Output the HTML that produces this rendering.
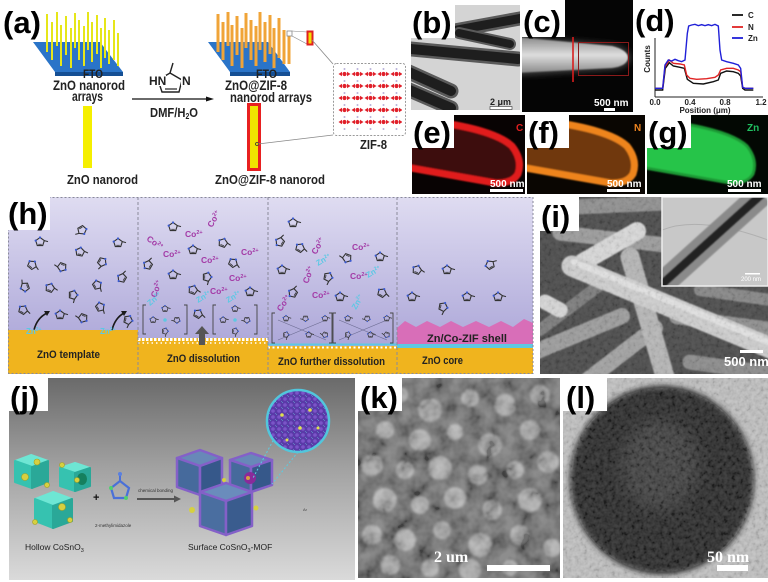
<!DOCTYPE html>
<html><head><meta charset="utf-8">
<style>
html,body{margin:0;padding:0;background:#fff;}
svg{display:block;font-family:"Liberation Sans",Arial,sans-serif;}
.lb{font-weight:bold;font-size:31px;fill:#000;}
.t{font-weight:bold;fill:#222;}
.co{font-weight:bold;font-size:8.5px;fill:#a33aa6;}
.zn{font-weight:bold;font-size:8px;fill:#5cc8e4;}
</style></head><body>
<svg width="768" height="582" viewBox="0 0 768 582" xmlns="http://www.w3.org/2000/svg" xmlns:xlink="http://www.w3.org/1999/xlink">
<defs>
 <linearGradient id="hbg" x1="0" y1="0" x2="0" y2="1">
  <stop offset="0" stop-color="#dfdcf1"/><stop offset="1" stop-color="#a39dd4"/>
 </linearGradient>
 <linearGradient id="jbg" x1="0" y1="0" x2="0" y2="1">
  <stop offset="0" stop-color="#6a6a6a"/><stop offset="0.45" stop-color="#a2a2a2"/><stop offset="1" stop-color="#dadada"/>
 </linearGradient>
 <linearGradient id="crod" x1="0" y1="0" x2="0" y2="1">
  <stop offset="0" stop-color="#8a8a8a"/><stop offset="0.5" stop-color="#dedede"/><stop offset="1" stop-color="#8a8a8a"/>
 </linearGradient>
 <filter id="bl1"><feGaussianBlur stdDeviation="0.8"/></filter>
 <filter id="bl2"><feGaussianBlur stdDeviation="1.2"/></filter>
 <filter id="bl4" x="-20%" y="-20%" width="140%" height="140%"><feGaussianBlur stdDeviation="3"/></filter>
 <filter id="bl8" x="-50%" y="-50%" width="200%" height="200%"><feGaussianBlur stdDeviation="8"/></filter>
 <filter id="nzk" x="358" y="378" width="202" height="200" filterUnits="userSpaceOnUse">
  <feTurbulence type="fractalNoise" baseFrequency="0.06" numOctaves="3" seed="4"/>
  <feColorMatrix type="matrix" values="1.8 0 0 0 -0.4  1.8 0 0 0 -0.4  1.8 0 0 0 -0.4  0 0 0 0 1"/>
 </filter>
 <filter id="nzf" x="0" y="0" width="768" height="582" filterUnits="userSpaceOnUse">
  <feTurbulence type="fractalNoise" baseFrequency="0.25" numOctaves="2" seed="9"/>
  <feColorMatrix type="matrix" values="2 0 0 0 -0.5  2 0 0 0 -0.5  2 0 0 0 -0.5  0 0 0 0 1"/>
 </filter>
 <clipPath id="cb"><rect x="411" y="5" width="109" height="105"/></clipPath>
 <clipPath id="cc"><rect x="522" y="0" width="111" height="112"/></clipPath>
 <clipPath id="ce"><rect x="412" y="115" width="113" height="79"/></clipPath>
 <clipPath id="cf"><rect x="527" y="115" width="118" height="79"/></clipPath>
 <clipPath id="cg"><rect x="647" y="115" width="121" height="79"/></clipPath>
 <clipPath id="ci"><rect x="540" y="197" width="228" height="177"/></clipPath>
 <clipPath id="cii"><rect x="662" y="197" width="106" height="89"/></clipPath>
 <clipPath id="cj"><rect x="9" y="378" width="346" height="202"/></clipPath>
 <clipPath id="ck"><rect x="358" y="378" width="202" height="200"/></clipPath>
 <clipPath id="cl"><rect x="563" y="378" width="205" height="200"/></clipPath>
 <clipPath id="csph"><ellipse cx="662" cy="480" rx="92" ry="92"/></clipPath>
 <clipPath id="cjc"><circle cx="298" cy="421" r="31"/></clipPath>
 <pattern id="zif" x="338" y="68" width="13" height="12" patternUnits="userSpaceOnUse">
  <circle cx="6.5" cy="6" r="2.1" fill="#e0202a"/>
  <polygon points="0.5,6 4,3.8 4,8.2" fill="#e0202a"/>
  <polygon points="12.5,6 9,3.8 9,8.2" fill="#e0202a"/>
  <circle cx="6.5" cy="1" r="1" fill="#b8b0d8"/>
 </pattern>
 <pattern id="mof" x="0" y="0" width="6" height="6" patternUnits="userSpaceOnUse">
  <rect width="6" height="6" fill="#5a3aa8"/>
  <circle cx="3" cy="3" r="1.8" fill="#7b54c8"/>
  <circle cx="0" cy="0" r="0.8" fill="#6ad0e0"/>
  <circle cx="6" cy="6" r="0.8" fill="#6ad0e0"/>
 </pattern>
 <g id="im">
  <path d="M0,-4.5 L4.3,-1.4 L2.7,3.6 L-2.7,3.6 L-4.3,-1.4 Z" fill="none" stroke="#333" stroke-width="1.1"/>
  <path d="M-1.8,2.3 L1.8,2.3" stroke="#333" stroke-width="0.8"/>
  <line x1="4.3" y1="-1.4" x2="8" y2="-0.4" stroke="#333" stroke-width="1.1"/>
  <circle cx="-4.3" cy="-1.4" r="1.1" fill="#3a5ad0"/>
  <circle cx="0" cy="-4.5" r="1.1" fill="#3a5ad0"/>
 </g>
</defs>

<rect x="0" y="0" width="768" height="582" fill="#fff"/>

<!-- ================= (a) ================= -->
<text class="lb" x="3" y="33" font-size="28">(a)</text>
<polygon points="55,72 123,72 123,76 55,76" fill="#154f94"/>
<polygon points="33,42 100,42 123,72 55,72" fill="#2a74c8"/>
<g stroke="#e6e61a" stroke-width="2">
 <line x1="47" y1="14" x2="47" y2="52"/><line x1="52" y1="22" x2="52" y2="60"/>
 <line x1="57" y1="12" x2="57" y2="46"/><line x1="61" y1="25" x2="61" y2="66"/>
 <line x1="66" y1="16" x2="66" y2="55"/><line x1="71" y1="28" x2="71" y2="68"/>
 <line x1="75" y1="13" x2="75" y2="48"/><line x1="79" y1="20" x2="79" y2="60"/>
 <line x1="84" y1="26" x2="84" y2="66"/><line x1="88" y1="12" x2="88" y2="50"/>
 <line x1="92" y1="22" x2="92" y2="62"/><line x1="97" y1="15" x2="97" y2="54"/>
 <line x1="101" y1="28" x2="101" y2="68"/><line x1="105" y1="18" x2="105" y2="58"/>
 <line x1="109" y1="30" x2="109" y2="64"/><line x1="114" y1="20" x2="114" y2="60"/>
 <line x1="118" y1="33" x2="118" y2="66"/>
</g>
<text class="t" x="83" y="78" font-size="12" textLength="20" lengthAdjust="spacingAndGlyphs" fill="#1a2a50">FTO</text>
<text class="t" x="53" y="90" font-size="14" textLength="72" lengthAdjust="spacingAndGlyphs">ZnO nanorod</text>
<text class="t" x="72" y="101" font-size="14" textLength="31" lengthAdjust="spacingAndGlyphs">arrays</text>
<rect x="83" y="106" width="9" height="62" fill="#f5ef00"/>
<text class="t" x="67" y="184" font-size="13" textLength="71" lengthAdjust="spacingAndGlyphs">ZnO nanorod</text>

<line x1="132" y1="99" x2="208" y2="99" stroke="#111" stroke-width="1.3"/>
<polygon points="206,96.5 214,99 206,101.5" fill="#111"/>
<path d="M170,73 L182,80 L179,92 L162,92 L158,80 Z" fill="none" stroke="#222" stroke-width="1.4"/>
<path d="M165,89 L177,89" stroke="#222" stroke-width="1.2"/>
<line x1="170" y1="73" x2="173" y2="63" stroke="#222" stroke-width="1.4"/>
<rect x="148" y="75" width="18" height="11" fill="#fff"/>
<rect x="181" y="75" width="10" height="11" fill="#fff"/>
<text class="t" x="149" y="85" font-size="12">HN</text>
<text class="t" x="182" y="85" font-size="12">N</text>
<text class="t" x="150" y="117" font-size="13" textLength="48" lengthAdjust="spacingAndGlyphs">DMF/H<tspan font-size="8" dy="2">2</tspan><tspan dy="-2">O</tspan></text>

<polygon points="230,72 290,72 290,76 230,76" fill="#154f94"/>
<polygon points="208,42 268,42 290,72 230,72" fill="#2a74c8"/>
<g stroke="#f0a438" stroke-width="3">
 <line x1="218" y1="14" x2="218" y2="52"/><line x1="223" y1="22" x2="223" y2="60"/>
 <line x1="228" y1="12" x2="228" y2="46"/><line x1="232" y1="25" x2="232" y2="66"/>
 <line x1="237" y1="16" x2="237" y2="55"/><line x1="242" y1="28" x2="242" y2="68"/>
 <line x1="246" y1="13" x2="246" y2="48"/><line x1="251" y1="20" x2="251" y2="60"/>
 <line x1="256" y1="26" x2="256" y2="66"/><line x1="260" y1="12" x2="260" y2="50"/>
 <line x1="265" y1="22" x2="265" y2="62"/><line x1="270" y1="15" x2="270" y2="54"/>
 <line x1="274" y1="28" x2="274" y2="68"/><line x1="279" y1="18" x2="279" y2="58"/>
 <line x1="284" y1="30" x2="284" y2="64"/><line x1="289" y1="34" x2="289" y2="64"/>
</g>
<text class="t" x="256" y="78" font-size="12" textLength="21" lengthAdjust="spacingAndGlyphs" fill="#1a2a50">FTO</text>
<text class="t" x="225" y="90" font-size="14" textLength="62" lengthAdjust="spacingAndGlyphs">ZnO@ZIF-8</text>
<text class="t" x="230" y="102" font-size="14" textLength="82" lengthAdjust="spacingAndGlyphs">nanorod arrays</text>
<rect x="287" y="31" width="5" height="5" fill="#fff" stroke="#888" stroke-width="0.8"/>
<line x1="292" y1="31" x2="307" y2="32" stroke="#888" stroke-width="0.6"/>
<line x1="292" y1="36" x2="307" y2="44" stroke="#888" stroke-width="0.6"/>
<rect x="307.5" y="31.5" width="5" height="13" fill="#f0e000" stroke="#e02020" stroke-width="2"/>
<line x1="312" y1="40" x2="333" y2="64" stroke="#888" stroke-width="0.8"/>
<rect x="248.5" y="104.5" width="11" height="65" fill="#f0e400" stroke="#e82020" stroke-width="3"/>
<circle cx="257" cy="144" r="1.5" fill="none" stroke="#333" stroke-width="0.8"/>
<line x1="258" y1="144" x2="333" y2="135" stroke="#888" stroke-width="0.8"/>
<text class="t" x="215" y="184" font-size="13" textLength="110" lengthAdjust="spacingAndGlyphs">ZnO@ZIF-8 nanorod</text>
<rect x="333.5" y="63.5" width="72" height="72" rx="3" fill="#fff" stroke="#999" stroke-width="1" stroke-dasharray="2,1.5"/>
<rect x="338" y="68" width="64" height="62" fill="url(#zif)"/>
<text class="t" x="360" y="149" font-size="13" textLength="27" lengthAdjust="spacingAndGlyphs">ZIF-8</text>

<!-- ================= (b) ================= -->
<g clip-path="url(#cb)">
 <rect x="411" y="5" width="109" height="105" fill="#d4d4d4"/>
 <g stroke-linecap="round" fill="none">
  <line x1="457" y1="30" x2="528" y2="17" stroke="#5a5a5a" stroke-width="14"/>
  <line x1="457" y1="30" x2="528" y2="17" stroke="#1e1e1e" stroke-width="9"/>
  <line x1="459" y1="33" x2="510" y2="44" stroke="#5a5a5a" stroke-width="12"/>
  <line x1="459" y1="33" x2="510" y2="44" stroke="#1e1e1e" stroke-width="8"/>
  <line x1="400" y1="48" x2="518" y2="59" stroke="#5a5a5a" stroke-width="15"/>
  <line x1="400" y1="48" x2="518" y2="59" stroke="#1e1e1e" stroke-width="10"/>
  <line x1="400" y1="68" x2="451" y2="91" stroke="#5a5a5a" stroke-width="15"/>
  <line x1="400" y1="68" x2="451" y2="91" stroke="#1e1e1e" stroke-width="10"/>
  <line x1="400" y1="86" x2="451" y2="108" stroke="#5a5a5a" stroke-width="15"/>
  <line x1="400" y1="86" x2="451" y2="108" stroke="#1e1e1e" stroke-width="10"/>
 </g>
 <text x="490" y="105" font-size="9" font-weight="bold" fill="#222">2 μm</text>
 <rect x="490" y="106.5" width="22" height="3" fill="#fff" stroke="#333" stroke-width="0.6"/>
</g>
<rect x="411" y="5" width="44" height="33" fill="#fff"/>
<text class="lb" x="412" y="33">(b)</text>

<!-- ================= (c) ================= -->
<g clip-path="url(#cc)">
 <rect x="522" y="0" width="111" height="112" fill="#050505"/>
 <path d="M515,35 L612,44 Q631,48 631,58 Q630,68 612,70 L515,76 Z" fill="#3a3a3a" filter="url(#bl4)"/>
 <path d="M515,37 L612,46 Q628,50 628,58 Q627,66 612,68 L515,73 Z" fill="url(#crod)" filter="url(#bl1)"/>
 <rect x="578.5" y="42.5" width="50" height="33" fill="none" stroke="#8a1a1a" stroke-width="1"/>
 <line x1="573" y1="37" x2="573" y2="82" stroke="#d81e1e" stroke-width="1.6"/>
 <text x="594" y="106" font-size="10" font-weight="bold" fill="#fff">500 nm</text>
 <rect x="604" y="108" width="11" height="3" fill="#fff"/>
</g>
<rect x="522" y="0" width="43" height="37" fill="#fff"/>
<text class="lb" x="523" y="32">(c)</text>

<!-- ================= (d) ================= -->
<text class="lb" x="635" y="31" font-size="30">(d)</text>
<line x1="655" y1="38" x2="655" y2="97" stroke="#222" stroke-width="1"/>
<line x1="655" y1="97" x2="763" y2="97" stroke="#222" stroke-width="1"/>
<g font-size="8" font-weight="bold" fill="#222" text-anchor="middle">
 <text x="655" y="105">0.0</text><text x="690" y="105">0.4</text>
 <text x="725" y="105">0.8</text><text x="761" y="105">1.2</text>
 <text x="705" y="113">Position (μm)</text>
 <text x="0" y="0" transform="translate(650,59) rotate(-90)">Counts</text>
</g>
<g transform="translate(630,0) scale(0.3333)" fill="none" stroke-width="1.4">
 <path vector-effect="non-scaling-stroke" stroke="#111" d="M75,270 L98,270 L106,205 L118,188 L130,198 L150,202 L163,205 L172,238 L190,250 L220,252 L250,245 L265,240 L272,220 L290,213 L310,215 L325,220 L332,228 L338,265 L345,270 L370,270"/>
 <path vector-effect="non-scaling-stroke" stroke="#e02424" d="M75,265 L98,265 L105,200 L118,180 L130,190 L150,192 L163,195 L170,225 L180,235 L200,238 L230,236 L255,232 L265,225 L272,210 L290,205 L310,205 L325,210 L332,215 L338,262 L345,265 L370,265"/>
 <path vector-effect="non-scaling-stroke" stroke="#2020d8" d="M75,265 L98,265 L105,195 L115,180 L125,183 L135,178 L145,182 L155,185 L165,180 L172,100 L176,78 L185,75 L195,73 L205,77 L215,74 L225,77 L235,74 L245,77 L255,73 L265,78 L270,150 L275,180 L290,185 L310,190 L325,195 L332,205 L338,262 L345,265 L370,265"/>
</g>
<line x1="732" y1="15" x2="743" y2="15" stroke="#111" stroke-width="1.8"/>
<line x1="732" y1="27" x2="743" y2="27" stroke="#e02424" stroke-width="1.8"/>
<line x1="732" y1="38" x2="743" y2="38" stroke="#2020d8" stroke-width="1.8"/>
<g font-size="8" font-weight="bold" fill="#222">
 <text x="748" y="18">C</text><text x="748" y="30">N</text><text x="748" y="41">Zn</text>
</g>

<!-- ================= (e) ================= -->
<g clip-path="url(#ce)">
 <rect x="412" y="115" width="113" height="79" fill="#080303"/>
 <path d="M405,120 L450,124 Q497,132 512,146 Q523,160 518,174 Q512,184 495,183 L405,167 Z" fill="#3e0707" stroke="#e01a1a" stroke-width="7" filter="url(#bl1)"/>
 <text x="516" y="131" font-size="10" font-weight="bold" fill="#e02020">C</text>
 <text x="490" y="187" font-size="10" font-weight="bold" fill="#fff">500 nm</text>
 <rect x="490" y="189" width="33" height="3" fill="#fff"/>
</g>
<rect x="412" y="115" width="42" height="33" fill="#fff"/>
<text class="lb" x="413" y="143">(e)</text>

<!-- ================= (f) ================= -->
<g clip-path="url(#cf)">
 <rect x="527" y="115" width="118" height="79" fill="#0a0602"/>
 <path d="M520,120 L565,124 Q612,132 627,146 Q638,160 633,174 Q627,184 610,183 L520,167 Z" fill="#70380c" stroke="#ee841e" stroke-width="7" filter="url(#bl1)"/>
 <text x="634" y="131" font-size="10" font-weight="bold" fill="#ee8420">N</text>
 <text x="607" y="187" font-size="10" font-weight="bold" fill="#fff">500 nm</text>
 <rect x="607" y="189" width="33" height="3" fill="#fff"/>
</g>
<rect x="527" y="115" width="42" height="33" fill="#fff"/>
<text class="lb" x="528" y="143">(f)</text>

<!-- ================= (g) ================= -->
<g clip-path="url(#cg)">
 <rect x="647" y="115" width="121" height="79" fill="#030803"/>
 <path d="M640,120 L685,124 Q732,132 747,146 Q758,160 753,174 Q747,184 730,183 L640,167 Z" fill="#26c44a" stroke="#1c9a34" stroke-width="3" filter="url(#bl1)"/>
 <text x="747" y="131" font-size="10" font-weight="bold" fill="#20c060">Zn</text>
 <text x="727" y="187" font-size="10" font-weight="bold" fill="#fff">500 nm</text>
 <rect x="728" y="189" width="33" height="3" fill="#fff"/>
</g>
<rect x="647" y="115" width="44" height="33" fill="#fff"/>
<text class="lb" x="648" y="143">(g)</text>

<!-- ================= (h) ================= -->
<rect x="8" y="197" width="525" height="177" fill="url(#hbg)"/>
<rect x="8" y="330" width="130" height="44" fill="#f0b41e"/>
<rect x="138" y="338" width="130" height="36" fill="#f0b41e"/>
<rect x="268" y="346" width="129" height="28" fill="#f0b41e"/>
<rect x="397" y="348" width="136" height="26" fill="#f0b41e"/>
<line x1="138" y1="339.5" x2="268" y2="339.5" stroke="#fff" stroke-width="3" stroke-dasharray="2.5,1.5"/>
<line x1="138" y1="343" x2="268" y2="343" stroke="#fff" stroke-width="1.5" stroke-dasharray="1.5,3"/>
<line x1="268" y1="344.5" x2="397" y2="344.5" stroke="#5ec8e2" stroke-width="2"/>
<line x1="268" y1="347.5" x2="397" y2="347.5" stroke="#fff" stroke-width="2" stroke-dasharray="2,2.5"/>
<path d="M397,345 L397,328 L405,321 L416,327 L427,321 L440,327 L451,321 L463,327 L476,321 L489,327 L501,321 L513,327 L524,319 L533,323 L533,345 Z" fill="#d86eb8"/>
<rect x="397" y="344" width="136" height="4" fill="#5ec8e2"/>
<rect x="8.5" y="197.5" width="524.5" height="176" fill="none" stroke="#8a8a9a" stroke-width="1" stroke-dasharray="2,2"/>
<g stroke="#8a8a9a" stroke-width="1" stroke-dasharray="3,2">
 <line x1="138" y1="197" x2="138" y2="374"/>
 <line x1="268" y1="197" x2="268" y2="374"/>
 <line x1="397" y1="197" x2="397" y2="374"/>
</g>
<g class="t" font-size="11" fill="#222">
 <text x="37" y="358" textLength="63" lengthAdjust="spacingAndGlyphs" font-weight="bold">ZnO template</text>
 <text x="167" y="362" textLength="73" lengthAdjust="spacingAndGlyphs" font-weight="bold">ZnO dissolution</text>
 <text x="278" y="365" textLength="107" lengthAdjust="spacingAndGlyphs" font-weight="bold">ZnO further dissolution</text>
 <text x="422" y="364" textLength="41" lengthAdjust="spacingAndGlyphs" font-weight="bold">ZnO core</text>
 <text x="427" y="342" textLength="80" lengthAdjust="spacingAndGlyphs" font-weight="bold">Zn/Co-ZIF shell</text>
</g>
<g>
 <use xlink:href="#im" transform="translate(40,242) rotate(0)"/>
 <use xlink:href="#im" transform="translate(82,230) rotate(150)"/>
 <use xlink:href="#im" transform="translate(118,243) rotate(0)"/>
 <use xlink:href="#im" transform="translate(32,265) rotate(40)"/>
 <use xlink:href="#im" transform="translate(62,267) rotate(200)"/>
 <use xlink:href="#im" transform="translate(80,252) rotate(10)"/>
 <use xlink:href="#im" transform="translate(102,262) rotate(120)"/>
 <use xlink:href="#im" transform="translate(25,287) rotate(250)"/>
 <use xlink:href="#im" transform="translate(50,288) rotate(20)"/>
 <use xlink:href="#im" transform="translate(73,295) rotate(90)"/>
 <use xlink:href="#im" transform="translate(97,285) rotate(60)"/>
 <use xlink:href="#im" transform="translate(122,278) rotate(300)"/>
 <use xlink:href="#im" transform="translate(23,310) rotate(30)"/>
 <use xlink:href="#im" transform="translate(60,315) rotate(0)"/>
 <use xlink:href="#im" transform="translate(83,318) rotate(200)"/>
 <use xlink:href="#im" transform="translate(100,307) rotate(60)"/>
 <use xlink:href="#im" transform="translate(128,320) rotate(100)"/>
</g>
<g fill="none" stroke="#1a1a1a" stroke-width="1.6">
 <path d="M34,330 Q37,318 47,313"/><path d="M112,330 Q115,318 124,313"/>
</g>
<polygon points="44,311 50,311 47,316" fill="#1a1a1a"/>
<polygon points="121,311 127,311 124,316" fill="#1a1a1a"/>
<text class="zn" x="26" y="334">Zn<tspan font-size="5" dy="-3">2+</tspan></text>
<text class="zn" x="100" y="334">Zn<tspan font-size="5" dy="-3">2+</tspan></text>
<g>
 <use xlink:href="#im" transform="translate(173,227)"/>
 <use xlink:href="#im" transform="translate(223,243) rotate(20)"/>
 <use xlink:href="#im" transform="translate(193,250)"/>
 <use xlink:href="#im" transform="translate(148,265) rotate(300)"/>
 <use xlink:href="#im" transform="translate(173,275)"/>
 <use xlink:href="#im" transform="translate(207,277) rotate(90)"/>
 <use xlink:href="#im" transform="translate(233,263) rotate(40)"/>
 <use xlink:href="#im" transform="translate(193,290) rotate(20)"/>
 <use xlink:href="#im" transform="translate(250,292)"/>
 <use xlink:href="#im" transform="translate(198,314) rotate(30)"/>
</g>
<g class="co">
 <text x="185" y="237">Co<tspan font-size="5.5" dy="-3">2+</tspan></text>
 <text transform="translate(212,228) rotate(-60)">Co<tspan font-size="5.5" dy="-3">2+</tspan></text>
 <text transform="translate(146,240) rotate(35)">Co<tspan font-size="5.5" dy="-3">2+</tspan></text>
 <text x="163" y="257">Co<tspan font-size="5.5" dy="-3">2+</tspan></text>
 <text x="201" y="263">Co<tspan font-size="5.5" dy="-3">2+</tspan></text>
 <text x="241" y="255">Co<tspan font-size="5.5" dy="-3">2+</tspan></text>
 <text x="229" y="281">Co<tspan font-size="5.5" dy="-3">2+</tspan></text>
 <text transform="translate(156,298) rotate(-70)">Co<tspan font-size="5.5" dy="-3">2+</tspan></text>
 <text x="210" y="294">Co<tspan font-size="5.5" dy="-3">2+</tspan></text>
</g>
<g class="zn">
 <text transform="translate(150,306) rotate(-40)">Zn<tspan font-size="5" dy="-3">2+</tspan></text>
 <text transform="translate(198,303) rotate(-30)">Zn<tspan font-size="5" dy="-3">2+</tspan></text>
 <text transform="translate(228,303) rotate(-30)">Zn<tspan font-size="5" dy="-3">2+</tspan></text>
</g>
<g fill="none" stroke="#444" stroke-width="0.9">
 <path d="M146,305 L143,305 L143,334 L146,334"/><path d="M184,305 L187,305 L187,334 L184,334"/>
 <path d="M216,305 L213,305 L213,334 L216,334"/><path d="M254,305 L257,305 L257,334 L254,334"/>
</g>
<g transform="translate(165,320) scale(0.7)">
 <use xlink:href="#im" transform="translate(0,-16)"/><use xlink:href="#im" transform="translate(-17,0)"/>
 <use xlink:href="#im" transform="translate(17,0) rotate(180)"/><use xlink:href="#im" transform="translate(0,16) rotate(90)"/>
 <circle r="2.5" fill="#5ec8e2"/>
</g>
<g transform="translate(235,320) scale(0.7)">
 <use xlink:href="#im" transform="translate(0,-16)"/><use xlink:href="#im" transform="translate(-17,0)"/>
 <use xlink:href="#im" transform="translate(17,0) rotate(180)"/><use xlink:href="#im" transform="translate(0,16) rotate(90)"/>
 <circle r="2.5" fill="#5ec8e2"/>
</g>
<rect x="199" y="333" width="6" height="12" fill="#555"/>
<polygon points="195,334 209,334 202,326" fill="#555"/>
<g>
 <use xlink:href="#im" transform="translate(293,223)"/>
 <use xlink:href="#im" transform="translate(280,242) rotate(300)"/>
 <use xlink:href="#im" transform="translate(300,248) rotate(30)"/>
 <use xlink:href="#im" transform="translate(347,258) rotate(200)"/>
 <use xlink:href="#im" transform="translate(380,257)"/>
 <use xlink:href="#im" transform="translate(282,270)"/>
 <use xlink:href="#im" transform="translate(328,277) rotate(100)"/>
 <use xlink:href="#im" transform="translate(293,293) rotate(300)"/>
 <use xlink:href="#im" transform="translate(340,297)"/>
 <use xlink:href="#im" transform="translate(382,293) rotate(30)"/>
</g>
<g class="co">
 <text transform="translate(316,255) rotate(-60)">Co<tspan font-size="5.5" dy="-3">2+</tspan></text>
 <text x="352" y="250">Co<tspan font-size="5.5" dy="-3">2+</tspan></text>
 <text transform="translate(308,284) rotate(-70)">Co<tspan font-size="5.5" dy="-3">2+</tspan></text>
 <text x="350" y="279">Co<tspan font-size="5.5" dy="-3">2+</tspan></text>
 <text x="312" y="298">Co<tspan font-size="5.5" dy="-3">2+</tspan></text>
 <text transform="translate(281,312) rotate(-55)">Co<tspan font-size="5.5" dy="-3">2+</tspan></text>
</g>
<g class="zn">
 <text transform="translate(318,266) rotate(-30)">Zn<tspan font-size="5" dy="-3">2+</tspan></text>
 <text transform="translate(368,278) rotate(-30)">Zn<tspan font-size="5" dy="-3">2+</tspan></text>
 <text transform="translate(356,310) rotate(-60)">Zn<tspan font-size="5" dy="-3">2+</tspan></text>
</g>
<g fill="none" stroke="#444" stroke-width="0.9">
 <path d="M275,313 L272,313 L272,343 L275,343"/><path d="M329,313 L332,313 L332,343 L329,343"/>
 <path d="M336,313 L333,313 L333,343 L336,343"/><path d="M390,313 L393,313 L393,343 L390,343"/>
 <path d="M278,320 L326,340 M278,340 L326,320 M339,320 L387,340 M339,340 L387,320" stroke="#6a6a90" stroke-width="0.6"/>
</g>
<g transform="scale(0.65)">
 <use xlink:href="#im" transform="translate(440,490)"/><use xlink:href="#im" transform="translate(470,490) rotate(180)"/>
 <use xlink:href="#im" transform="translate(500,490)"/><use xlink:href="#im" transform="translate(440,515) rotate(90)"/>
 <use xlink:href="#im" transform="translate(475,515)"/><use xlink:href="#im" transform="translate(500,515) rotate(200)"/>
 <use xlink:href="#im" transform="translate(535,490)"/><use xlink:href="#im" transform="translate(565,490) rotate(180)"/>
 <use xlink:href="#im" transform="translate(595,490)"/><use xlink:href="#im" transform="translate(535,515) rotate(90)"/>
 <use xlink:href="#im" transform="translate(570,515)"/><use xlink:href="#im" transform="translate(595,515) rotate(200)"/>
</g>
<g>
 <use xlink:href="#im" transform="translate(417,270) rotate(20)"/>
 <use xlink:href="#im" transform="translate(447,270)"/>
 <use xlink:href="#im" transform="translate(490,265) rotate(330)"/>
 <use xlink:href="#im" transform="translate(412,297)"/>
 <use xlink:href="#im" transform="translate(443,307) rotate(100)"/>
 <use xlink:href="#im" transform="translate(467,297)"/>
 <use xlink:href="#im" transform="translate(498,297)"/>
</g>
<rect x="8" y="197" width="42" height="33" fill="#fff"/>
<text class="lb" x="8" y="224" font-size="29">(h)</text>

<!-- ================= (i) ================= -->
<g clip-path="url(#ci)">
 <rect x="540" y="197" width="228" height="177" fill="#4a4a4a"/>
 <g stroke-linecap="round" filter="url(#bl1)">
  <line x1="575" y1="207" x2="665" y2="203" stroke="#8e8e8e" stroke-width="15"/>
  <line x1="560" y1="233" x2="665" y2="245" stroke="#9a9a9a" stroke-width="15"/>
  <line x1="535" y1="352" x2="622" y2="316" stroke="#9a9a9a" stroke-width="16"/>
  <line x1="585" y1="382" x2="655" y2="328" stroke="#a0a0a0" stroke-width="16"/>
  <line x1="677" y1="317" x2="775" y2="330" stroke="#8e8e8e" stroke-width="15"/>
  <line x1="690" y1="362" x2="775" y2="374" stroke="#8a8a8a" stroke-width="15"/>
  <line x1="540" y1="330" x2="600" y2="285" stroke="#7a7a7a" stroke-width="12"/>
  <line x1="700" y1="290" x2="770" y2="300" stroke="#858585" stroke-width="12"/>
  <line x1="630" y1="257" x2="666" y2="380" stroke="#b4b4b4" stroke-width="19"/>
  <line x1="545" y1="302" x2="560" y2="310" stroke="#d4d4d4" stroke-width="15"/>
  <line x1="583" y1="262" x2="637" y2="231" stroke="#d6d6d6" stroke-width="18"/>
  <line x1="572" y1="266" x2="780" y2="352" stroke="#cccccc" stroke-width="21"/>
  <line x1="574" y1="262" x2="780" y2="347" stroke="#e0e0e0" stroke-width="6"/>
 </g>
 <rect x="540" y="197" width="228" height="177" fill="#fff" opacity="0.08" filter="url(#nzf)"/>
 <g clip-path="url(#cii)">
  <rect x="662" y="197" width="106" height="89" fill="#c8c8c8"/>
  <path d="M662,230 Q700,215 768,240" stroke="#b0b0b0" stroke-width="1" fill="none"/>
  <line x1="660" y1="286" x2="762" y2="194" stroke="#8a8a8a" stroke-width="24" filter="url(#bl1)"/>
  <line x1="660" y1="286" x2="762" y2="194" stroke="#222" stroke-width="8" filter="url(#bl1)"/>
  <text x="741" y="281" font-size="6" fill="#fff">200 nm</text>
  <rect x="745" y="273" width="15" height="1.5" fill="#fff"/>
 </g>
 <rect x="662" y="197" width="106" height="89" fill="none" stroke="#eee" stroke-width="1.5"/>
 <rect x="740" y="350" width="23" height="3" fill="#fff"/>
 <text x="724" y="366" font-size="13" font-weight="bold" fill="#fff">500 nm</text>
</g>
<rect x="540" y="197" width="39" height="34" fill="#fff"/>
<text class="lb" x="541" y="227" font-size="30">(i)</text>

<!-- ================= (j) ================= -->
<g clip-path="url(#cj)">
 <rect x="9" y="378" width="346" height="202" fill="url(#jbg)"/>
 <g stroke-linejoin="round" stroke-width="2">
  <polygon points="31,455 48,461 32,467 15,461" fill="#6ee6d4" stroke="#6ee6d4"/>
  <polygon points="15,461 32,467 32,488 15,482" fill="#36c2b0" stroke="#36c2b0"/>
  <polygon points="32,467 48,461 48,482 32,488" fill="#2aa898" stroke="#2aa898"/>
  <polygon points="75,463 90,468 75,473 60,468" fill="#6ee6d4" stroke="#6ee6d4"/>
  <polygon points="60,468 75,473 75,491 60,486" fill="#36c2b0" stroke="#36c2b0"/>
  <polygon points="75,473 90,468 90,486 75,491" fill="#2aa898" stroke="#2aa898"/>
  <polygon points="53,492 72,499 53,506 35,499" fill="#6ee6d4" stroke="#6ee6d4"/>
  <polygon points="35,499 53,506 53,528 35,521" fill="#36c2b0" stroke="#36c2b0"/>
  <polygon points="53,506 72,499 72,521 53,528" fill="#2aa898" stroke="#2aa898"/>
 </g>
 <ellipse cx="82" cy="479" rx="5" ry="6" fill="#15805e"/>
 <g fill="#d6d040" stroke="#a8a020" stroke-width="0.6">
  <circle cx="37" cy="462" r="3"/><circle cx="25" cy="477" r="3.5"/><circle cx="62" cy="465" r="2.5"/>
  <circle cx="77" cy="480" r="2.5"/><circle cx="47" cy="485" r="2.5"/><circle cx="62" cy="507" r="3.5"/>
  <circle cx="70" cy="520" r="2.5"/><circle cx="35" cy="522" r="2.5"/>
 </g>
 <text x="93" y="501" font-size="11" font-weight="bold" fill="#111">+</text>
 <polygon points="120,481 129,488 126,498 114,498 111,488" fill="none" stroke="#4a70d8" stroke-width="2.2"/>
 <line x1="120" y1="481" x2="120" y2="474" stroke="#4a70d8" stroke-width="2"/>
 <circle cx="120" cy="474" r="2" fill="#5a80e0"/>
 <circle cx="111" cy="488" r="2" fill="#50d070"/><circle cx="126" cy="498" r="2" fill="#50d070"/>
 <text x="95" y="527" font-size="4.5" fill="#333">2-methylimidazole</text>
 <text x="138" y="492" font-size="4.5" fill="#333">chemical bonding</text>
 <line x1="137" y1="499" x2="174" y2="499" stroke="#555" stroke-width="2"/>
 <polygon points="174,495.5 181,499 174,502.5" fill="#555"/>
 <g stroke="#8460c8" stroke-width="2.5" stroke-linejoin="round">
  <polygon points="200,450 222,458 200,466 177,458" fill="#6888b8"/>
  <polygon points="177,458 200,466 200,495 177,487" fill="#466a9c"/>
  <polygon points="200,466 222,458 222,487 200,495" fill="#36588a"/>
  <polygon points="251,453 272,460 251,467 230,460" fill="#6888b8"/>
  <polygon points="230,460 251,467 251,492 230,485" fill="#466a9c"/>
  <polygon points="251,467 272,460 272,485 251,492" fill="#36588a"/>
 </g>
 <circle cx="250" cy="478" r="6" fill="#8a2a9a"/>
 <circle cx="248" cy="478" r="2" fill="#d8a040"/>
 <g stroke="#8460c8" stroke-width="2.5" stroke-linejoin="round">
  <polygon points="226,483 252,492 226,501 200,492" fill="#6a8cbc"/>
  <polygon points="200,492 226,501 226,535 200,526" fill="#4a6ea0"/>
  <polygon points="226,501 252,492 252,526 226,535" fill="#3a5c8e"/>
 </g>
 <g fill="#d6d040"><circle cx="192" cy="510" r="3"/><circle cx="256" cy="508" r="2.5"/><circle cx="224" cy="480" r="2"/></g>
 <g stroke="#5ccce0" stroke-width="1" stroke-dasharray="2,2">
  <line x1="275" y1="437" x2="253" y2="478"/><line x1="298" y1="452" x2="272" y2="484"/>
 </g>
 <circle cx="298" cy="421" r="31" fill="#c0e0ea" opacity="0.5"/>
 <g clip-path="url(#cjc)">
  <rect x="267" y="390" width="62" height="62" fill="url(#mof)"/>
  <circle cx="282" cy="415" r="1.8" fill="#e0e050"/><circle cx="310" cy="410" r="1.8" fill="#e0e050"/>
  <circle cx="300" cy="428" r="1.8" fill="#e0e050"/><circle cx="318" cy="428" r="1.5" fill="#e0e050"/>
  <circle cx="287" cy="440" r="1.5" fill="#e0e050"/>
 </g>
 <circle cx="298" cy="421" r="31" fill="none" stroke="#52c6dc" stroke-width="2.5"/>
 <text x="303" y="511" font-size="4" fill="#444">Ar</text>
 <text x="25" y="550" font-size="8.5" fill="#222">Hollow CoSnO<tspan font-size="5.5" dy="2">3</tspan></text>
 <text x="188" y="550" font-size="8.5" fill="#222">Surface CoSnO<tspan font-size="5.5" dy="2">3</tspan><tspan dy="-2">-MOF</tspan></text>
</g>
<rect x="9" y="378" width="39" height="33" fill="#fff"/>
<text class="lb" x="10" y="408" font-size="30">(j)</text>

<!-- ================= (k) ================= -->
<g clip-path="url(#ck)">
 <rect x="358" y="378" width="202" height="200" fill="#5c5c5c"/>
 <g fill="#a8a8a8" filter="url(#bl2)" opacity="0.9">
  <circle cx="375" cy="400" r="10"/><circle cx="400" cy="395" r="8"/><circle cx="430" cy="410" r="12"/>
  <circle cx="470" cy="398" r="9"/><circle cx="505" cy="405" r="11"/><circle cx="540" cy="395" r="10"/>
  <circle cx="385" cy="430" r="9"/><circle cx="420" cy="440" r="11"/><circle cx="455" cy="432" r="8"/>
  <circle cx="490" cy="445" r="12"/><circle cx="530" cy="430" r="10"/><circle cx="372" cy="465" r="11"/>
  <circle cx="405" cy="470" r="9"/><circle cx="440" cy="468" r="12"/><circle cx="478" cy="475" r="10"/>
  <circle cx="515" cy="470" r="9"/><circle cx="548" cy="462" r="11"/><circle cx="385" cy="500" r="12"/>
  <circle cx="420" cy="505" r="9"/><circle cx="455" cy="498" r="11"/><circle cx="492" cy="510" r="10"/>
  <circle cx="530" cy="500" r="12"/><circle cx="372" cy="535" r="10"/><circle cx="405" cy="540" r="11"/>
  <circle cx="442" cy="530" r="9"/><circle cx="480" cy="545" r="12"/><circle cx="520" cy="535" r="10"/>
  <circle cx="552" cy="548" r="9"/><circle cx="390" cy="565" r="10"/><circle cx="430" cy="568" r="9"/>
  <circle cx="470" cy="570" r="11"/><circle cx="510" cy="568" r="8"/>
 </g>
 <rect x="358" y="378" width="202" height="200" filter="url(#nzk)" opacity="0.3"/>
 <text x="434" y="562" font-size="16" font-weight="bold" fill="#fff" font-family="Liberation Serif, serif">2 um</text>
 <rect x="487" y="565" width="63" height="6" fill="#fff"/>
</g>
<rect x="358" y="378" width="44" height="33" fill="#fff"/>
<text class="lb" x="360" y="408" font-size="30">(k)</text>

<!-- ================= (l) ================= -->
<g clip-path="url(#cl)">
 <rect x="563" y="378" width="205" height="200" fill="#bdbdbd"/>
 <rect x="563" y="378" width="205" height="200" fill="#fff" opacity="0.12" filter="url(#nzf)"/>
 <ellipse cx="662" cy="480" rx="92" ry="94" fill="#222" filter="url(#bl4)"/>
 <ellipse cx="660" cy="465" rx="38" ry="45" fill="#555" opacity="0.45" filter="url(#bl8)"/>
 <g clip-path="url(#csph)">
  <rect x="563" y="378" width="205" height="200" fill="#000" opacity="0.15" filter="url(#nzf)"/>
 </g>
 <text x="707" y="562" font-size="16" font-weight="bold" fill="#fff" font-family="Liberation Serif, serif">50 nm</text>
 <rect x="717" y="565" width="31" height="6" fill="#fff"/>
</g>
<rect x="563" y="378" width="44" height="33" fill="#fff"/>
<text class="lb" x="566" y="408" font-size="30">(l)</text>
</svg>
</body></html>
